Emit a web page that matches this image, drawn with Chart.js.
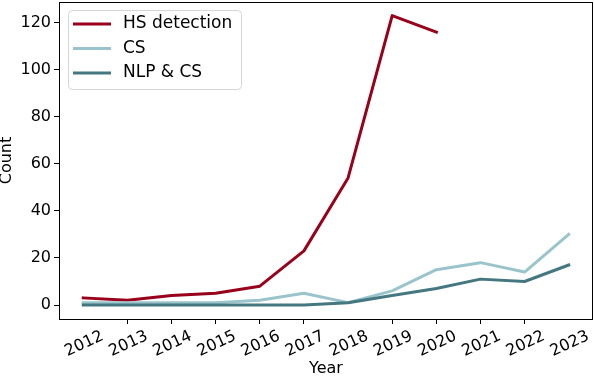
<!DOCTYPE html>
<html><head><meta charset="utf-8">
<script src="https://cdn.jsdelivr.net/npm/chart.js@4/dist/chart.umd.min.js"></script>
<style>html,body{margin:0;padding:0;background:#fff}#wrap{width:594px;height:376px;position:relative}</style>
</head><body><div id="wrap"><canvas id="c"></canvas></div>
<script>
const years = ['2012','2013','2014','2015','2016','2017','2018','2019','2020','2021','2022','2023'];
const hsDetection = [3, 2, 4, 5, 8, 23, 54, 123, 116, null, null, null];
const cs = [1, 1, 1, 1, 2, 5, 1, 6, 15, 18, 14, 30];
const nlpCs = [0, 0, 0, 0, 0, 0, 1, 4, 7, 11, 10, 17];
const yTicks = [0, 20, 40, 60, 80, 100, 120];
const xTickMarks = [1, 2, 3, 4, 5, 7, 8, 9, 10];
const seriesNames = ['HS detection', 'CS', 'NLP & CS'];
const seriesColors = ['#990019', '#9ac4cb', '#44777f'];

const FONT = 'DejaVu Sans';
const toPts = arr => arr.map((v, i) => ({x: i, y: v}));

const decorPlugin = {
  id: 'decor',
  afterDatasetsDraw(chart) {
    const ctx = chart.ctx, a = chart.chartArea, xs = chart.scales.x;
    ctx.save();
    // axes frame
    ctx.strokeStyle = '#000'; ctx.lineWidth = 1;
    ctx.strokeRect(Math.round(a.left) + 0.5, Math.round(a.top) + 0.5, Math.round(a.right - a.left) - 1, Math.round(a.bottom - a.top));
    // rotated year labels
    ctx.fillStyle = '#000';
    ctx.font = '16px "' + FONT + '"';
    ctx.textAlign = 'center'; ctx.textBaseline = 'middle';
    years.forEach((lab, i) => {
      const px = xs.getPixelForValue(i);
      ctx.save();
      ctx.translate(px + 1, 344);
      ctx.rotate(-25 * Math.PI / 180);
      ctx.fillText(lab, 0, 0);
      ctx.restore();
    });
    // legend
    const bx = 68.5, by = 10.5, bw = 173, bh = 79, r = 4;
    ctx.beginPath();
    ctx.moveTo(bx + r, by); ctx.lineTo(bx + bw - r, by); ctx.quadraticCurveTo(bx + bw, by, bx + bw, by + r);
    ctx.lineTo(bx + bw, by + bh - r); ctx.quadraticCurveTo(bx + bw, by + bh, bx + bw - r, by + bh);
    ctx.lineTo(bx + r, by + bh); ctx.quadraticCurveTo(bx, by + bh, bx, by + bh - r);
    ctx.lineTo(bx, by + r); ctx.quadraticCurveTo(bx, by, bx + r, by);
    ctx.closePath();
    ctx.fillStyle = 'rgba(255,255,255,0.8)'; ctx.fill();
    ctx.strokeStyle = '#d6d6d6'; ctx.lineWidth = 1; ctx.stroke();
    ctx.font = '17px "' + FONT + '"';
    const rows = [24, 48.5, 73];
    chart.data.datasets.forEach((ds, i) => {
      const y = rows[i];
      ctx.strokeStyle = ds.borderColor; ctx.lineWidth = 3; ctx.lineCap = 'butt';
      ctx.beginPath(); ctx.moveTo(73, y); ctx.lineTo(111, y); ctx.stroke();
      ctx.fillStyle = '#000'; ctx.textAlign = 'left'; ctx.textBaseline = 'middle';
      ctx.fillText(ds.label, 123, y);
    });
    ctx.restore();
  }
};

new Chart(document.getElementById('c'), {
  type: 'line',
  data: {
    datasets: [
      {label: seriesNames[0], data: toPts(hsDetection), borderColor: seriesColors[0], order: 2},
      {label: seriesNames[1], data: toPts(cs), borderColor: seriesColors[1], order: 1},
      {label: seriesNames[2], data: toPts(nlpCs), borderColor: seriesColors[2], order: 0}
    ].map(d => Object.assign(d, {borderWidth: 3, pointRadius: 0, tension: 0, fill: false, spanGaps: false, borderJoinStyle: 'round', borderCapStyle: 'square'}))
  },
  options: {
    responsive: true, maintainAspectRatio: false, animation: false,
    devicePixelRatio: 1,
    layout: {padding: {top: 2, right: 1, left: 0, bottom: 0}},
    plugins: {legend: {display: false}, tooltip: {enabled: false}},
    scales: {
      x: {
        type: 'linear', min: -0.55, max: 11.55,
        afterBuildTicks: s => { s.ticks = xTickMarks.map(v => ({value: v})); },
        afterFit: s => { s.height = 57; s.paddingLeft = 0; s.paddingRight = 0; },
        ticks: {display: false},
        grid: {drawOnChartArea: false, drawTicks: true, tickLength: 5, color: '#000', tickColor: '#000'},
        border: {display: false},
        title: {display: true, text: 'Year', color: '#000', font: {family: FONT, size: 16, lineHeight: 1}, padding: {top: 0, bottom: -1}}
      },
      y: {
        type: 'linear', min: -5.95, max: 128.8,
        afterBuildTicks: s => { s.ticks = yTicks.map(v => ({value: v})); },
        afterFit: s => { s.width = 59; s.paddingTop = 0; s.paddingBottom = 0; },
        ticks: {color: '#000', font: {family: FONT, size: 16}, padding: 3},
        grid: {drawOnChartArea: false, drawTicks: true, tickLength: 5, color: '#000', tickColor: '#000'},
        border: {display: false},
        title: {display: true, text: 'Count', color: '#000', font: {family: FONT, size: 16, lineHeight: 1}, padding: {top: -1, bottom: 0}}
      }
    }
  },
  plugins: [decorPlugin]
});
</script>
</body></html>
